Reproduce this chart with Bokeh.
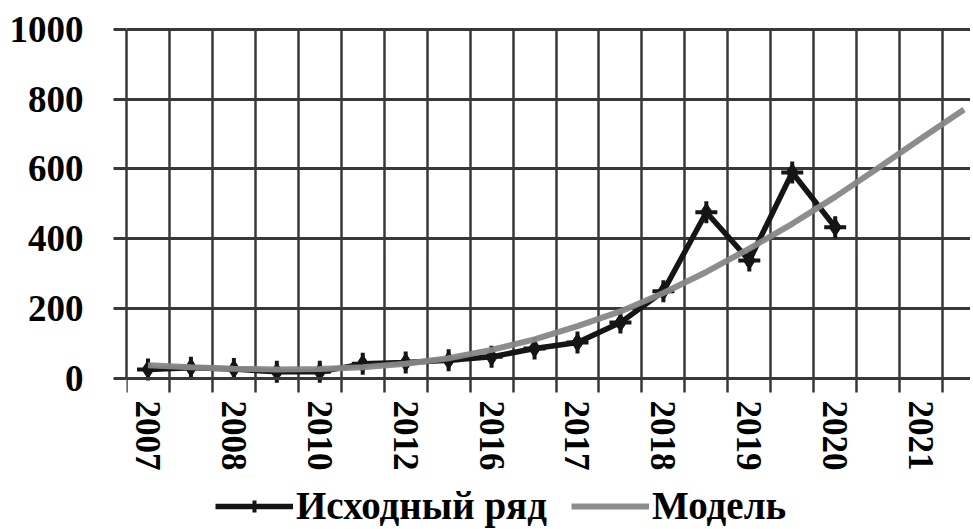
from bokeh.plotting import figure
from bokeh.models import FixedTicker, Range1d, Legend, LegendItem
from bokeh.embed import file_html
from bokeh.resources import INLINE

# ---- data ----
n_categories = 20
shown_tick_labels = ["2007", "2008", "2010", "2012", "2016", "2017",
                     "2018", "2019", "2020", "2021"]
original_series = [26, 31, 27, 19, 19, 42, 46, 52, 62, 86, 103, 160,
                   250, 476, 338, 590, 433]
model_series = [38, 32, 28, 26, 27, 32, 42, 58, 82, 112, 150, 192,
                245, 305, 372, 443, 520, 603, 687, 770]
y_ticks = [0, 200, 400, 600, 800, 1000]

x_orig = list(range(len(original_series)))
x_model = list(range(len(model_series)))
label_positions = list(range(0, n_categories, 2))
boundaries = [i - 0.5 for i in range(n_categories + 1)]

FONT = "Liberation Serif"
GRID = "#383838"

Y_TOP = 1005
FRAME_H = 501
PPU = 351 / Y_TOP                # pixels per unit so that 0 sits 351 px below the top
Y_BOTTOM = Y_TOP - FRAME_H / PPU  # extra room below 0 for labels and legend

p = figure(frame_width=844, frame_height=FRAME_H, output_backend="svg", toolbar_location=None,
           x_range=Range1d(-0.5, 19.15), y_range=Range1d(Y_BOTTOM, Y_TOP),
           min_border_left=126, min_border_right=0, min_border_top=27,
           min_border_bottom=0)
p.outline_line_color = None
p.background_fill_color = "white"

# grids
p.xgrid.ticker = FixedTicker(ticks=boundaries)
p.xgrid.cross_bounds = (0, 1000)
p.xgrid.grid_line_color = GRID
p.xgrid.grid_line_width = 2.5
p.ygrid.ticker = FixedTicker(ticks=y_ticks)
p.ygrid.grid_line_color = GRID
p.ygrid.grid_line_width = 3

# x axis (sits at value 0)
p.xaxis.fixed_location = 0
p.xaxis.ticker = FixedTicker(ticks=label_positions, minor_ticks=boundaries)
p.xaxis.major_label_overrides = {pos: lab for pos, lab in zip(label_positions, shown_tick_labels)}
p.xaxis.major_label_orientation = "vertical"
p.xaxis.major_tick_line_alpha = 0
p.xaxis.major_tick_out = 14
p.xaxis.major_tick_in = 0
p.xaxis.minor_tick_out = 14
p.xaxis.minor_tick_in = 0
p.xaxis.minor_tick_line_color = GRID
p.xaxis.minor_tick_line_width = 2.5
p.xaxis.axis_line_color = GRID
p.xaxis.axis_line_width = 3
p.xaxis.major_label_standoff = 8
p.xaxis.major_label_text_font = FONT
p.xaxis.major_label_text_font_style = "bold"
p.xaxis.major_label_text_font_size = "35px"
p.xaxis.major_label_text_color = "black"

# y axis
p.yaxis.ticker = FixedTicker(ticks=y_ticks)
p.yaxis.bounds = (0, 1000)
p.yaxis.axis_line_color = GRID
p.yaxis.axis_line_width = 2.5
p.yaxis.major_tick_out = 13
p.yaxis.major_tick_in = 0
p.yaxis.major_tick_line_color = GRID
p.yaxis.major_tick_line_width = 3
p.yaxis.minor_tick_line_color = None
p.yaxis.major_label_standoff = 30
p.yaxis.major_label_text_font = FONT
p.yaxis.major_label_text_font_style = "bold"
p.yaxis.major_label_text_font_size = "37px"
p.yaxis.major_label_text_color = "black"

# series
l_orig = p.line(x_orig, original_series, line_color="#151515", line_width=5.5)
m_diam = p.scatter(x_orig, original_series, marker="diamond", size=18,
                   fill_color="#151515", line_color="#151515")
m_cross = p.scatter(x_orig, original_series, marker="cross", size=22,
                    line_color="#151515", line_width=4)
l_model = p.line(x_model, model_series, line_color="#878787", line_width=6,
                 line_alpha=0.95)

legend = Legend(items=[LegendItem(label="Исходный ряд", renderers=[l_orig, m_cross]),
                       LegendItem(label="Модель", renderers=[l_model])],
                orientation="horizontal", location=(89, 0),
                label_text_font=FONT, label_text_font_style="bold",
                label_text_font_size="39px", label_text_color="black",
                glyph_width=78, glyph_height=30, spacing=24, label_standoff=3,
                padding=0, margin=0, border_line_color=None,
                background_fill_alpha=0)
p.add_layout(legend, "center")

open("out.html", "w").write(file_html(p, INLINE))
